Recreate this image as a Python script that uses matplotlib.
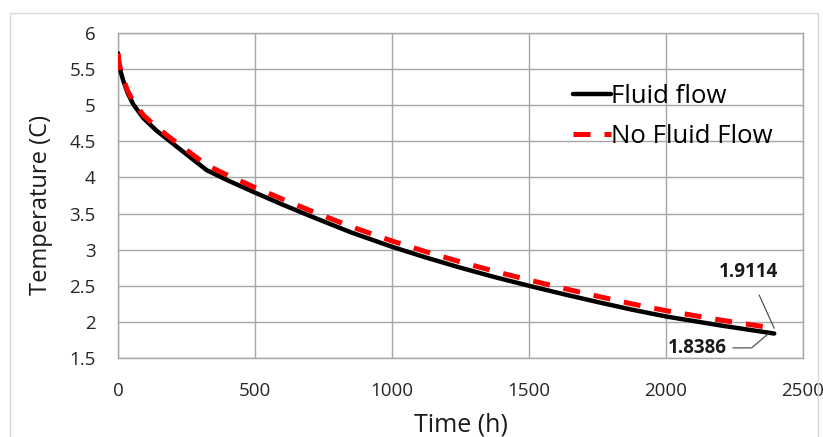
import matplotlib
matplotlib.use("Agg")
import matplotlib.pyplot as plt
from matplotlib.patches import Rectangle

plt.rcParams['font.family'] = ['Open Sans', 'DejaVu Sans']

time_h = [0, 3, 10, 20, 35, 56, 93, 140, 190, 250, 324, 400, 500, 600, 702, 850,
          1000, 1125, 1250, 1375, 1500, 1625, 1750, 1875, 2000, 2200, 2395]
fluid_flow = [5.72, 5.60, 5.46, 5.33, 5.17, 5.01, 4.82, 4.65, 4.50, 4.32, 4.10, 3.96,
              3.79, 3.625, 3.465, 3.24, 3.04, 2.89, 2.75, 2.62, 2.50, 2.385, 2.275,
              2.17, 2.075, 1.95, 1.8386]
no_fluid_flow = [5.72, 5.61, 5.48, 5.36, 5.20, 5.05, 4.86, 4.70, 4.55, 4.38, 4.17, 4.03,
                 3.86, 3.70, 3.54, 3.32, 3.12, 2.97, 2.83, 2.70, 2.58, 2.465, 2.355,
                 2.25, 2.155, 2.025, 1.9114]

fig = plt.figure(figsize=(8.23, 4.37), dpi=100)
fig.patches.append(Rectangle((10/823, -0.1), 808/823, 1.1 - 13/437, transform=fig.transFigure,
                             fill=False, edgecolor='#d9d9d9', linewidth=1))
ax = fig.add_axes([118/823, 1 - 358/437, (803 - 118)/823, (358 - 33)/437])

ax.plot(time_h, fluid_flow, color='black', linewidth=3.2, label='Fluid flow',
        solid_capstyle='round', solid_joinstyle='round', zorder=3)
ax.plot(time_h, no_fluid_flow, color='#ff0000', linewidth=3.6, linestyle=(0, (3.4, 2.8)),
        label='No Fluid Flow', zorder=4)

ax.set_xlim(0, 2500)
ax.set_ylim(1.5, 6)
ax.set_xticks([0, 500, 1000, 1500, 2000, 2500])
ax.set_yticks([1.5, 2, 2.5, 3, 3.5, 4, 4.5, 5, 5.5, 6])
ax.set_yticklabels(['1.5', '2', '2.5', '3', '3.5', '4', '4.5', '5', '5.5', '6'])
ax.grid(True, color='#a6a6a6', linewidth=1)
ax.set_axisbelow(True)
for s in ax.spines.values():
    s.set_color('#a6a6a6')
    s.set_linewidth(1)
ax.tick_params(axis='both', length=0, labelsize=13.5, colors='#262626')
ax.tick_params(axis='x', pad=17)
ax.tick_params(axis='y', pad=16)

ax.set_xlabel('Time (h)', fontsize=18, color='#1a1a1a', labelpad=9)
ax.set_ylabel('Temperature (C)', fontsize=17, color='#1a1a1a')
ax.yaxis.set_label_coords(-0.095, 0.47)

leg = ax.legend(loc='upper left', bbox_to_anchor=(0.63, 0.915), frameon=False,
                fontsize=18.5, handlelength=1.5, handletextpad=0.0, labelspacing=0.6)

ax.annotate('1.9114', xy=(2395, 1.9114), xytext=(2302, 2.69), fontsize=13.5,
            fontweight='bold', ha='center', va='center', color='#1a1a1a',
            arrowprops=dict(arrowstyle='-', color='#404040', lw=0.8,
                            shrinkA=8, shrinkB=0))
ax.annotate('1.8386', xy=(2375, 1.84), xytext=(2116, 1.64), fontsize=13.5,
            fontweight='bold', ha='center', va='center', color='#1a1a1a',
            arrowprops=dict(arrowstyle='-', color='#404040', lw=0.8,
                            shrinkA=2, shrinkB=0,
                            connectionstyle='angle,angleA=0,angleB=40,rad=0'))

fig.savefig('out.png', dpi=100)
